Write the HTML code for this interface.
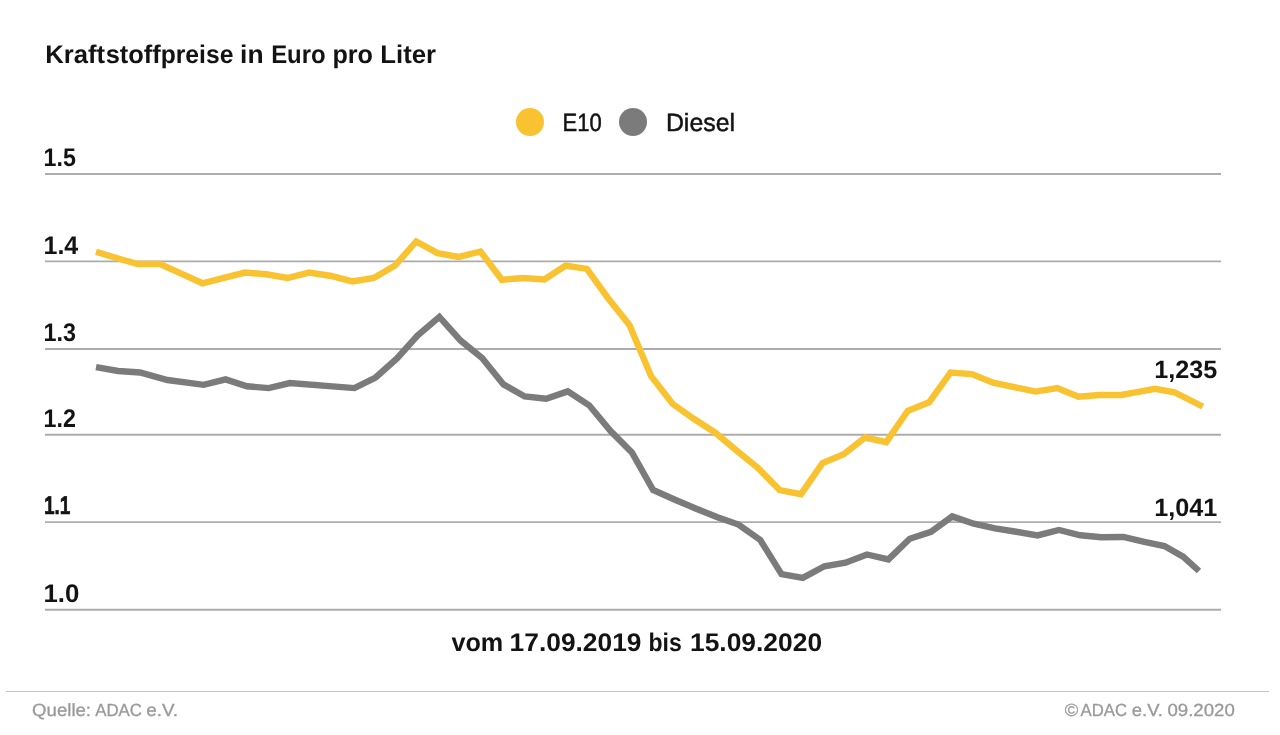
<!DOCTYPE html>
<html lang="de"><head><meta charset="utf-8"><title>Kraftstoffpreise in Euro pro Liter</title>
<style>
html,body{margin:0;padding:0;background:#fff;}
body{width:1280px;height:735px;overflow:hidden;font-family:"Liberation Sans",sans-serif;}
svg{display:block;text-rendering:geometricPrecision;will-change:transform;}
text{font-family:"Liberation Sans",sans-serif;fill:#131313;white-space:pre;}
.b{font-weight:bold;}
.r{stroke:#131313;stroke-width:.5px;stroke-linejoin:round;}
.s{stroke:#131313;stroke-width:.6px;}
.f{fill:#999999;}
.r.f{stroke:#999999;stroke-width:.3px;}
</style></head><body>
<svg width="1280" height="735" viewBox="0 0 1280 735">
<rect width="1280" height="735" fill="#ffffff"/>
<g id="title">
<text class="b" y="62.75" font-size="25.6"><tspan x="45.18" textLength="59.85" lengthAdjust="spacingAndGlyphs">Kraft</tspan><tspan x="105.74" textLength="55.05" lengthAdjust="spacingAndGlyphs">stoff</tspan><tspan x="160.69" textLength="72.72" lengthAdjust="spacingAndGlyphs">preise</tspan> <tspan x="240.08" textLength="23.49" lengthAdjust="spacingAndGlyphs">in</tspan> <tspan x="271.17" textLength="54.47" lengthAdjust="spacingAndGlyphs">Euro</tspan> <tspan x="332.38" textLength="40.53" lengthAdjust="spacingAndGlyphs">pro</tspan> <tspan x="380.32" textLength="55.76" lengthAdjust="spacingAndGlyphs">Liter</tspan></text>
</g>
<g id="legend">
<circle cx="530" cy="122" r="14" fill="#f9c231"/>
<circle cx="633" cy="122" r="14" fill="#7b7b7b"/>
<text class="r" y="130.90" font-size="25"><tspan x="562.54" textLength="39.24" lengthAdjust="spacingAndGlyphs">E10</tspan></text>
<text class="r" y="130.80" font-size="25"><tspan x="665.90" textLength="69.21" lengthAdjust="spacingAndGlyphs">Diesel</tspan></text>
</g>
<g id="grid" stroke="#aeabac" stroke-width="1.9"><line x1="45" x2="1221" y1="174" y2="174"/><line x1="45" x2="1221" y1="261.4" y2="261.4"/><line x1="45" x2="1221" y1="348.95" y2="348.95"/><line x1="45" x2="1221" y1="434.7" y2="434.7"/><line x1="45" x2="1221" y1="522.1" y2="522.1"/><line x1="45" x2="1221" y1="609.8" y2="609.8"/></g>
<g id="ylabels">
<text class="b" y="165.80" font-size="25.6"><tspan x="43.56" textLength="32.28" lengthAdjust="spacingAndGlyphs">1.5</tspan></text>
<text class="b" y="253.60" font-size="25.6"><tspan x="43.47" textLength="34.84" lengthAdjust="spacingAndGlyphs">1.4</tspan></text>
<text class="b" y="340.70" font-size="25.6"><tspan x="43.57" textLength="32.51" lengthAdjust="spacingAndGlyphs">1.3</tspan></text>
<text class="b" y="426.80" font-size="25.6"><tspan x="43.62" textLength="32.32" lengthAdjust="spacingAndGlyphs">1.2</tspan></text>
<text class="b s" y="514.20" font-size="25.6"><tspan x="43.93" textLength="26.56" lengthAdjust="spacingAndGlyphs">1.1</tspan></text>
<text class="b" y="601.70" font-size="25.6"><tspan x="43.50" textLength="35.91" lengthAdjust="spacingAndGlyphs">1.0</tspan></text>
</g>
<polyline id="e10" fill="none" stroke="#f9c231" stroke-width="6.4" stroke-linejoin="miter" stroke-miterlimit="10" points="96,251.75 117.25,258.25 137.75,264 160,264 181.25,273.6 202.5,283.25 223.75,277.9 245,272.6 266.25,274.25 287.5,278 309,272.6 330,275.75 352.4,281.4 373.75,277.9 395,265.6 416.2,241.5 437.5,253.1 458.75,256.9 480.5,251.5 501.9,279.8 522.75,278 544.4,279.5 565.6,265.5 586.9,268.9 608.1,298.2 629.4,325 651.1,376.2 672.5,403.75 693.75,418.75 715.3,432.7 736.5,450.5 758.1,468.1 779.6,490.1 801,494.1 822.5,463.1 843.75,454.2 865,437.5 886.25,442.1 907.75,410.75 929.1,402.25 950.5,372.6 971.9,374.05 993.1,382.75 1014.4,387.1 1035.6,391.6 1057.25,388.1 1078.5,396.75 1099.4,395 1121.25,395 1142.5,391.1 1155,388.75 1174.4,392.25 1202.7,406.5"/>
<polyline id="diesel" fill="none" stroke="#7b7b7b" stroke-width="6.4" stroke-linejoin="miter" stroke-miterlimit="10" points="96,367.1 118.1,371 140,372.5 167.5,380 203.75,384.8 225.6,379.4 246.9,386.25 268.75,388.1 289.75,383.1 354.4,388.1 375.6,377.5 397,358.5 417.5,335.6 439.4,316.9 460.6,340.6 482.1,358.1 503.5,384.4 524.75,396.5 546.25,398.8 567.75,391.4 589.2,405.3 610.6,431 631.9,452.5 653.1,490 675,499.75 696.25,508.7 717.5,517.3 738.5,524.6 760.25,540 781.5,574.1 802.8,577.8 824.4,566.25 845.6,562.75 866.9,554.5 888.4,559.4 909.75,538.75 931,531.9 952.25,516.4 973.75,523.75 995,528.4 1016.25,531.75 1037.5,535.4 1059,530 1080.25,535.25 1101.4,537.2 1123.4,537 1144.4,541.9 1164.4,546 1183.1,556.6 1199,571"/>
<g id="values">
<text class="b" y="378.00" font-size="25"><tspan x="1154.33" textLength="63.02" lengthAdjust="spacingAndGlyphs">1,235</tspan></text>
<text class="b" y="516.30" font-size="25"><tspan x="1154.18" textLength="63.00" lengthAdjust="spacingAndGlyphs">1,041</tspan></text>
</g>
<g id="caption">
<text class="b" y="651.10" font-size="25.5"><tspan x="451.47" textLength="51.80" lengthAdjust="spacingAndGlyphs">vom</tspan> <tspan x="509.63" textLength="131.85" lengthAdjust="spacingAndGlyphs">17.09.2019</tspan> <tspan x="648.51" textLength="33.29" lengthAdjust="spacingAndGlyphs">bis</tspan> <tspan x="689.99" textLength="132.09" lengthAdjust="spacingAndGlyphs">15.09.2020</tspan></text>
</g>
<line x1="6" x2="1269" y1="691.5" y2="691.5" stroke="#c4c4c4" stroke-width="1.15"/>
<g id="footer">
<text class="r f" y="715.60" font-size="17.6"><tspan x="32.13" textLength="58.90" lengthAdjust="spacingAndGlyphs">Quelle:</tspan> <tspan x="95.15" textLength="46.82" lengthAdjust="spacingAndGlyphs">ADAC</tspan> <tspan x="146.19" textLength="31.76" lengthAdjust="spacingAndGlyphs">e.V.</tspan></text>
<text class="r f" y="715.80" font-size="17.6"><tspan x="1064.68" textLength="13.51" lengthAdjust="spacingAndGlyphs">©</tspan><tspan x="1080.52" textLength="46.57" lengthAdjust="spacingAndGlyphs">ADAC</tspan> <tspan x="1131.76" textLength="31.18" lengthAdjust="spacingAndGlyphs">e.V.</tspan> <tspan x="1167.47" textLength="67.35" lengthAdjust="spacingAndGlyphs">09.2020</tspan></text>
</g>
</svg>
</body></html>
